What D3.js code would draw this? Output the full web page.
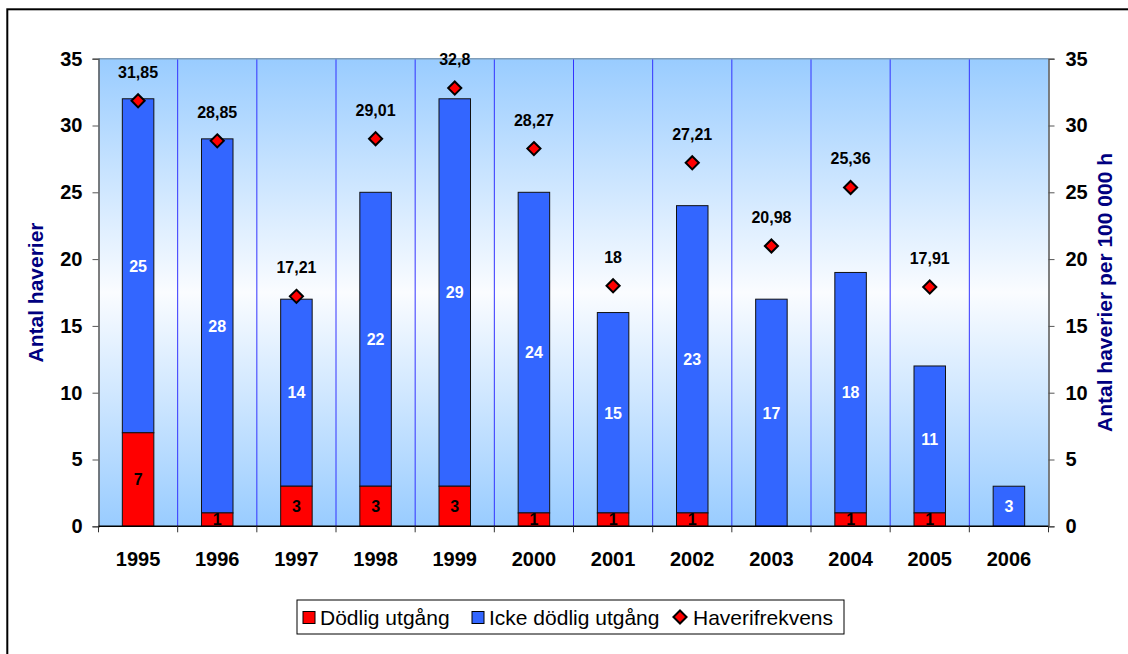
<!DOCTYPE html>
<html>
<head>
<meta charset="utf-8">
<script src="https://cdn.jsdelivr.net/npm/d3@7"></script>
<style>
  body { margin: 0; background: #fff; }
  #outer { width: 1128px; height: 654px; overflow: hidden; }
  text { font-family: "Liberation Sans", Arial, sans-serif; }
</style>
</head>
<body>
<div id="outer"></div>
<script>
////////// DATA //////////
const years = ['1995', '1996', '1997', '1998', '1999', '2000', '2001', '2002', '2003', '2004', '2005', '2006'];
const fatal = [7, 1, 3, 3, 3, 1, 1, 1, 0, 1, 1, 0];
const nonFatal = [25, 28, 14, 22, 29, 24, 15, 23, 17, 18, 11, 3];
const frequency = [31.85, 28.85, 17.21, 29.01, 32.8, 28.27, 18, 27.21, 20.98, 25.36, 17.91, null];
const yTicks = [0, 5, 10, 15, 20, 25, 30, 35];
const seriesNames = ['Dödlig utgång', 'Icke dödlig utgång', 'Haverifrekvens'];
const leftTitle = 'Antal haverier';
const rightTitle = 'Antal haverier per 100 000 h';

////////// SIZING / STYLE //////////
const width = 1128, height = 654;
const plot = { left: 98.5, right: 1048.5, top: 58.7, bottom: 526.3 };
const colors = { fatal: '#FF0000', nonFatal: '#3366FF', grid: '#3333FF', title: '#000080' };
const barWidth = 31.5;
const fmt = v => String(v).replace('.', ',');

////////// SVG //////////
const svg = d3.select('#outer').append('svg')
  .attr('width', width)
  .attr('height', height);

// outer chart border
svg.append('rect')
  .attr('x', 7.3).attr('y', 9.3)
  .attr('width', 1140).attr('height', 660)
  .attr('fill', 'white')
  .attr('stroke', 'black')
  .attr('stroke-width', 2);

// background gradient
const grad = svg.append('defs').append('linearGradient')
  .attr('id', 'bg')
  .attr('x1', 0).attr('y1', 0).attr('x2', 0).attr('y2', 1);
grad.append('stop').attr('offset', '0%').attr('stop-color', '#99CCFF');
grad.append('stop').attr('offset', '50%').attr('stop-color', '#FAFCFF');
grad.append('stop').attr('offset', '100%').attr('stop-color', '#99CCFF');

svg.append('rect')
  .attr('x', plot.left).attr('y', plot.top)
  .attr('width', plot.right - plot.left)
  .attr('height', plot.bottom - plot.top)
  .attr('fill', 'url(#bg)');

// scales
const x = d3.scaleBand().domain(years).range([plot.left, plot.right]).padding(0);
const y = d3.scaleLinear().domain([0, 35]).range([plot.bottom, plot.top]);

// vertical gridlines at category boundaries
svg.append('g')
  .selectAll('line')
  .data(years.slice(1))
  .join('line')
  .attr('x1', d => x(d)).attr('x2', d => x(d))
  .attr('y1', plot.top).attr('y2', plot.bottom)
  .attr('stroke', colors.grid)
  .attr('stroke-width', 1);

// plot top border
svg.append('line')
  .attr('x1', plot.left).attr('x2', plot.right)
  .attr('y1', plot.top).attr('y2', plot.top)
  .attr('stroke', '#7F9DB9').attr('stroke-width', 1.5);

// bars
const rows = years.map((yr, i) => ({ yr, fatal: fatal[i], nonFatal: nonFatal[i], freq: frequency[i] }));
const barX = d => x(d.yr) + x.bandwidth() / 2 - barWidth / 2;

const bars = svg.append('g');
bars.selectAll('rect.nf')
  .data(rows)
  .join('rect')
  .attr('class', 'nf')
  .attr('x', barX)
  .attr('width', barWidth)
  .attr('y', d => y(d.fatal + d.nonFatal))
  .attr('height', d => y(d.fatal) - y(d.fatal + d.nonFatal))
  .attr('fill', colors.nonFatal)
  .attr('stroke', '#111')
  .attr('stroke-width', 1);

bars.selectAll('rect.f')
  .data(rows.filter(d => d.fatal > 0))
  .join('rect')
  .attr('class', 'f')
  .attr('x', barX)
  .attr('width', barWidth)
  .attr('y', d => y(d.fatal))
  .attr('height', d => y(0) - y(d.fatal))
  .attr('fill', colors.fatal)
  .attr('stroke', '#111')
  .attr('stroke-width', 1);

// bar labels
const cx = d => x(d.yr) + x.bandwidth() / 2;
bars.selectAll('text.nf')
  .data(rows)
  .join('text')
  .attr('x', cx)
  .attr('y', d => y(d.fatal + d.nonFatal / 2))
  .attr('dy', '0.36em')
  .attr('text-anchor', 'middle')
  .attr('font-size', 16).attr('font-weight', 'bold')
  .attr('fill', 'white')
  .text(d => d.nonFatal);

bars.selectAll('text.f')
  .data(rows.filter(d => d.fatal > 0))
  .join('text')
  .attr('x', cx)
  .attr('y', d => y(d.fatal / 2))
  .attr('dy', '0.36em')
  .attr('text-anchor', 'middle')
  .attr('font-size', 16).attr('font-weight', 'bold')
  .attr('fill', 'black')
  .text(d => d.fatal);

// frequency markers
const freqRows = rows.filter(d => d.freq != null);
const diamond = d3.symbol().type(d3.symbolDiamond2).size(110);
svg.append('g')
  .selectAll('path')
  .data(freqRows)
  .join('path')
  .attr('d', diamond)
  .attr('transform', d => `translate(${cx(d)},${y(d.freq)})`)
  .attr('fill', colors.fatal)
  .attr('stroke', 'black')
  .attr('stroke-width', 2);

svg.append('g')
  .selectAll('text')
  .data(freqRows)
  .join('text')
  .attr('x', cx)
  .attr('y', d => y(d.freq) - 23)
  .attr('text-anchor', 'middle')
  .attr('font-size', 16).attr('font-weight', 'bold')
  .attr('fill', 'black')
  .text(d => fmt(d.freq));

// axes
const leftAxis = svg.append('g')
  .attr('transform', `translate(${plot.left},0)`)
  .call(d3.axisLeft(y).tickValues(yTicks).tickSize(6).tickPadding(10));
const rightAxis = svg.append('g')
  .attr('transform', `translate(${plot.right},0)`)
  .call(d3.axisRight(y).tickValues(yTicks).tickSize(6).tickPadding(11));
[leftAxis, rightAxis].forEach(a => {
  a.select('.domain').attr('stroke', '#555').attr('stroke-width', 1.5);
  a.selectAll('.tick line').attr('stroke', '#555');
  a.selectAll('text')
    .attr('font-size', 20).attr('font-weight', 'bold')
    .attr('fill', 'black')
    .attr('font-family', '"Liberation Sans", Arial, sans-serif');
});

// bottom axis: ticks at category boundaries, labels centered
const bottomAxis = svg.append('g').attr('transform', `translate(0,${plot.bottom})`);
bottomAxis.append('line')
  .attr('x1', plot.left).attr('x2', plot.right)
  .attr('stroke', 'black').attr('stroke-width', 1.5);
bottomAxis.selectAll('line.tk')
  .data(years.concat(['end']))
  .join('line')
  .attr('class', 'tk')
  .attr('x1', (d, i) => plot.left + i * x.bandwidth())
  .attr('x2', (d, i) => plot.left + i * x.bandwidth())
  .attr('y1', 0).attr('y2', 6)
  .attr('stroke', '#333');
bottomAxis.selectAll('text')
  .data(years)
  .join('text')
  .attr('x', d => x(d) + x.bandwidth() / 2)
  .attr('y', 40)
  .attr('text-anchor', 'middle')
  .attr('font-size', 20).attr('font-weight', 'bold')
  .text(d => d);

// axis titles
svg.append('text')
  .attr('transform', `translate(43,${(plot.top + plot.bottom) / 2}) rotate(-90)`)
  .attr('text-anchor', 'middle')
  .attr('font-size', 21).attr('font-weight', 'bold')
  .attr('fill', colors.title)
  .text(leftTitle);

svg.append('text')
  .attr('transform', `translate(1112,${(plot.top + plot.bottom) / 2}) rotate(-90)`)
  .attr('text-anchor', 'middle')
  .attr('font-size', 21).attr('font-weight', 'bold')
  .attr('fill', colors.title)
  .text(rightTitle);

// legend
const legend = svg.append('g');
legend.append('rect')
  .attr('x', 297).attr('y', 600)
  .attr('width', 547).attr('height', 34)
  .attr('fill', 'white')
  .attr('stroke', 'black').attr('stroke-width', 1);

const legendItems = [
  { name: seriesNames[0], type: 'square', color: colors.fatal, x: 303 },
  { name: seriesNames[1], type: 'square', color: colors.nonFatal, x: 472 },
  { name: seriesNames[2], type: 'diamond', color: colors.fatal, x: 673 }
];
legendItems.forEach(it => {
  if (it.type === 'square') {
    legend.append('rect')
      .attr('x', it.x).attr('y', 611.5)
      .attr('width', 12).attr('height', 12)
      .attr('fill', it.color)
      .attr('stroke', 'black').attr('stroke-width', 1);
  } else {
    legend.append('path')
      .attr('d', diamond)
      .attr('transform', `translate(${it.x + 7},617)`)
      .attr('fill', it.color)
      .attr('stroke', 'black').attr('stroke-width', 2);
  }
  legend.append('text')
    .attr('x', it.x + (it.type === 'square' ? 17 : 20))
    .attr('y', 624.5)
    .attr('font-size', 21)
    .attr('fill', 'black')
    .text(it.name);
});
</script>
</body>
</html>
